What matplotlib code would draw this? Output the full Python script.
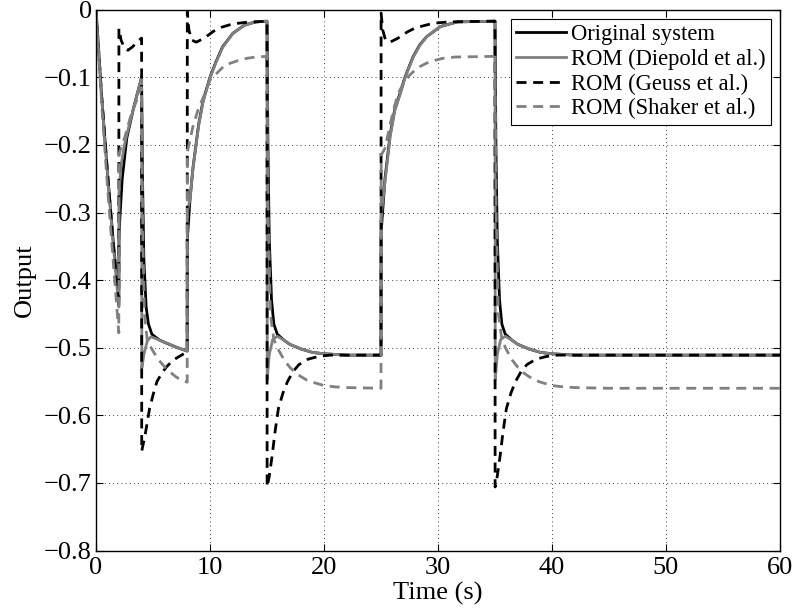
import matplotlib
matplotlib.use('Agg')
import matplotlib.pyplot as plt

plt.rcParams['font.family'] = ['Liberation Serif', 'DejaVu Serif']

# ---- Original system ----
t_orig = [0, 0.5, 1.0, 1.5, 2.0, 2.02, 2.3, 2.7, 3.3, 4.0,
          4.08, 4.2, 4.4, 4.6, 4.9, 5.5, 6.0, 7.0, 8.0,
          8.01, 8.25, 8.5, 9.0, 9.4, 10.0, 10.5, 11.1, 12.0, 13.0, 14.0, 15.0,
          15.08, 15.2, 15.4, 15.6, 15.9, 16.5, 17.0, 18.0, 19.0, 20.0, 22.0, 25.0,
          25.01, 25.35, 25.8, 26.2, 26.7, 27.1, 27.8, 28.4, 29.0, 30.2, 31.7, 35.0,
          35.08, 35.2, 35.4, 35.6, 35.9, 36.5, 37.0, 38.0, 39.0, 40.0, 42.0, 60.0]
y_orig = [0.0, -0.13, -0.24, -0.34, -0.43, -0.33, -0.25, -0.19, -0.145, -0.10,
          -0.25, -0.37, -0.44, -0.465, -0.48, -0.488, -0.492, -0.499, -0.505,
          -0.34, -0.28, -0.235, -0.17, -0.134, -0.10, -0.078, -0.055, -0.035, -0.023, -0.018, -0.017,
          -0.20, -0.34, -0.43, -0.465, -0.48, -0.489, -0.495, -0.502, -0.507, -0.509, -0.511, -0.511,
          -0.33, -0.25, -0.185, -0.148, -0.122, -0.10, -0.07, -0.052, -0.04, -0.025, -0.018, -0.017,
          -0.20, -0.34, -0.43, -0.465, -0.48, -0.489, -0.495, -0.502, -0.507, -0.509, -0.511, -0.511]

# ---- ROM (Diepold et al.) ----
t_diep = [0, 0.5, 1.0, 1.5, 2.0, 2.02, 2.2, 2.5, 2.7, 3.3, 4.0,
          4.02, 4.2, 4.5, 4.8, 5.0, 6.0, 7.0, 8.0,
          8.01, 8.25, 8.5, 9.0, 9.4, 10.0, 10.5, 11.1, 12.0, 13.0, 14.0, 15.0,
          15.02, 15.2, 15.5, 15.9, 16.5, 17.0, 18.0, 19.0, 20.0, 22.0, 25.0,
          25.01, 25.35, 25.8, 26.2, 26.7, 27.1, 27.8, 28.4, 29.0, 30.2, 31.7, 35.0,
          35.02, 35.2, 35.5, 35.9, 36.5, 37.0, 38.0, 39.0, 40.0, 42.0, 60.0]
y_diep = [0.0, -0.13, -0.24, -0.345, -0.44, -0.27, -0.23, -0.2, -0.185, -0.145, -0.10,
          -0.53, -0.51, -0.49, -0.484, -0.485, -0.492, -0.499, -0.505,
          -0.30, -0.28, -0.236, -0.172, -0.136, -0.101, -0.079, -0.056, -0.035, -0.023, -0.018, -0.017,
          -0.547, -0.51, -0.488, -0.483, -0.489, -0.495, -0.502, -0.507, -0.509, -0.511, -0.511,
          -0.306, -0.255, -0.188, -0.15, -0.124, -0.101, -0.071, -0.053, -0.04, -0.025, -0.018, -0.017,
          -0.547, -0.51, -0.488, -0.483, -0.489, -0.495, -0.502, -0.507, -0.509, -0.511, -0.511]

# ---- ROM (Geuss et al.) ----
t_geuss = [0, 0.5, 1.0, 1.5, 2.0, 2.01, 2.2, 2.5, 2.8, 3.2, 3.6, 4.0,
           4.01, 4.3, 4.5, 4.7, 5.0, 5.35, 5.8, 6.2, 6.8, 7.5, 8.0,
           8.01, 8.15, 8.4, 8.8, 9.5, 10.3, 11.0, 12.0, 13.0, 15.0,
           15.01, 15.2, 15.45, 15.7, 16.0, 16.4, 16.8, 17.3, 17.8, 18.6, 19.5, 20.5, 25.0,
           25.01, 25.15, 25.4, 25.8, 26.5, 27.3, 28.0, 28.9, 29.6, 31.0, 35.0,
           35.01, 35.2, 35.45, 35.7, 36.0, 36.4, 36.8, 37.3, 37.8, 38.6, 39.5, 40.5, 60.0]
y_geuss = [0.0, -0.13, -0.24, -0.345, -0.44, -0.028, -0.045, -0.057, -0.06, -0.055, -0.048, -0.042,
           -0.653, -0.63, -0.61, -0.59, -0.57, -0.55, -0.537, -0.528, -0.518, -0.511, -0.506,
           -0.003, -0.03, -0.045, -0.048, -0.042, -0.032, -0.026, -0.021, -0.019, -0.017,
           -0.706, -0.69, -0.66, -0.625, -0.59, -0.567, -0.55, -0.535, -0.525, -0.517, -0.513, -0.511, -0.511,
           -0.005, -0.03, -0.045, -0.048, -0.042, -0.033, -0.027, -0.023, -0.02, -0.018, -0.017,
           -0.706, -0.69, -0.66, -0.625, -0.59, -0.567, -0.55, -0.535, -0.525, -0.517, -0.513, -0.511, -0.511]

# ---- ROM (Shaker et al.) ----
t_shak = [0, 0.5, 1.0, 1.5, 2.0, 2.02, 2.5, 3.0, 3.5, 4.0,
          4.1, 4.25, 4.5, 5.0, 5.5, 6.0, 6.5, 7.0, 7.5, 8.0,
          8.02, 8.5, 8.95, 9.55, 10.0, 10.6, 11.3, 12.5, 13.2, 14.0, 15.0,
          15.1, 15.3, 15.6, 16.0, 16.5, 17.0, 17.5, 18.0, 18.5, 19.0, 20.0, 21.0, 22.0, 25.0,
          25.02, 25.35, 25.8, 26.1, 26.5, 27.0, 27.5, 28.2, 29.0, 29.7, 30.4, 31.5, 35.0,
          35.1, 35.3, 35.6, 36.0, 36.5, 37.0, 37.5, 38.0, 38.5, 39.0, 40.0, 41.0, 42.0, 45.0, 60.0]
y_shak = [0.0, -0.14, -0.26, -0.37, -0.478, -0.213, -0.19, -0.16, -0.137, -0.115,
          -0.33, -0.45, -0.49, -0.505, -0.518, -0.528, -0.536, -0.543, -0.548, -0.551,
          -0.21, -0.173, -0.148, -0.124, -0.104, -0.094, -0.082, -0.075, -0.072, -0.07, -0.069,
          -0.30, -0.45, -0.488, -0.503, -0.518, -0.529, -0.537, -0.543, -0.548, -0.551, -0.556, -0.558, -0.559, -0.56,
          -0.215, -0.205, -0.17, -0.148, -0.124, -0.108, -0.097, -0.086, -0.079, -0.075, -0.072, -0.07, -0.069,
          -0.30, -0.45, -0.488, -0.503, -0.518, -0.529, -0.537, -0.543, -0.548, -0.551, -0.556, -0.558, -0.559, -0.56, -0.56]

series_labels = ['Original system', 'ROM (Diepold et al.)', 'ROM (Geuss et al.)', 'ROM (Shaker et al.)']
x_ticks = [0, 10, 20, 30, 40, 50, 60]
y_ticks = [0, -0.1, -0.2, -0.3, -0.4, -0.5, -0.6, -0.7, -0.8]
y_tick_labels = ['0', '\u22120.1', '\u22120.2', '\u22120.3', '\u22120.4', '\u22120.5', '\u22120.6', '\u22120.7', '\u22120.8']

fig = plt.figure(figsize=(7.96, 6.14), dpi=100)
ax = fig.add_axes([96/796, 1 - 550.5/614, (780 - 96)/796, (550.5 - 9.7)/614])

dash = (0, (3.6, 2.4))
ax.plot(t_orig, y_orig, color='black', lw=2.0, label=series_labels[0])
ax.plot(t_diep, y_diep, color='#808080', lw=2.0, label=series_labels[1])
ax.plot(t_geuss, y_geuss, color='black', lw=2.0, ls=dash, label=series_labels[2])
ax.plot(t_shak, y_shak, color='#808080', lw=2.0, ls=dash, label=series_labels[3])

ax.set_xlim(0, 60)
ax.set_ylim(-0.8, 0)
ax.set_xticks(x_ticks)
ax.set_yticks(y_ticks)
ax.set_yticklabels(y_tick_labels)
ax.grid(True, color='black', ls=(0, (1, 4)), lw=0.6)
ax.tick_params(direction='in', top=True, right=True, length=5, width=0.8, labelsize=19)
ax.tick_params(axis='x', pad=5)
ax.tick_params(axis='y', pad=3)
for s in ax.spines.values():
    s.set_linewidth(1.0)
ax.set_xlabel('Time (s)', fontsize=19, labelpad=2)
ax.set_ylabel('Output', fontsize=19, labelpad=6)

leg = ax.legend(loc='upper right', fancybox=False, edgecolor='black', framealpha=1,
                fontsize=16.3, handlelength=2.2, borderpad=0.25, labelspacing=0.15,
                handletextpad=0.2, borderaxespad=0.4)
leg.get_frame().set_linewidth(0.8)

fig.savefig('out.png', dpi=100)
